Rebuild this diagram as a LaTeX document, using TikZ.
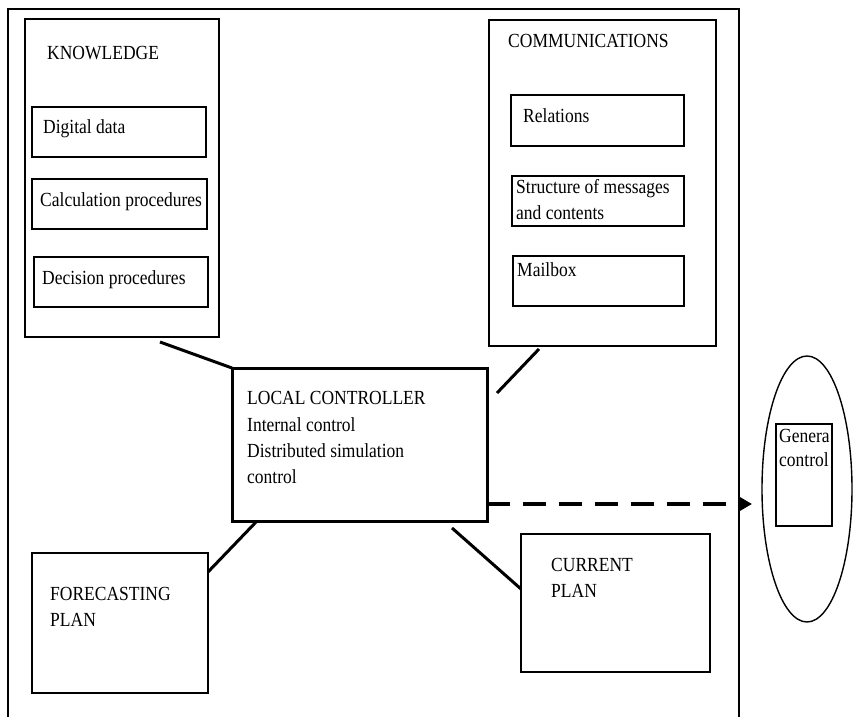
\documentclass[tikz,border=0pt]{standalone}
\usepackage{fontspec}
\setmainfont{Liberation Serif}[FakeStretch=0.875]
\usetikzlibrary{calc,arrows.meta,shapes.geometric}
\begin{document}
\begin{tikzpicture}[x=1pt,y=-1pt,
  thinbox/.style={draw,line width=1.4pt,inner sep=0pt,outer sep=0pt,rectangle},
  thickbox/.style={draw,line width=3pt,inner sep=0pt,outer sep=0pt,rectangle},
  lbl/.style={anchor=base west,inner sep=0pt,font=\fontsize{20}{23}\selectfont},
  link/.style={line width=3pt},
  flow/.style={line width=4pt,dash pattern=on 23pt off 13pt,-{Triangle[length=12pt,width=13pt]}}]
\useasboundingbox (0,0) rectangle (855,717);

% outer frame (open at the bottom)
\draw[line width=1.4pt] (8,717) -- (8,9) -- (739,9) -- (739,717);

% knowledge module
\node[thinbox,minimum width=194pt,minimum height=318pt] (know) at (122,178) {};
\node[lbl] (knowt) at (47,60) {KNOWLEDGE};
\node[thinbox,minimum width=174pt,minimum height=50pt] (dd) at (119,132) {};
\node[lbl] (ddt) at (43,134) {Digital data};
\node[thinbox,minimum width=175pt,minimum height=50pt] (calc) at (119.5,204) {};
\node[lbl] (calct) at (40,206) {Calculation procedures};
\node[thinbox,minimum width=174pt,minimum height=50pt] (dec) at (121,282) {};
\node[lbl] (dect) at (42,284) {Decision procedures};

% communications module
\node[thinbox,minimum width=227pt,minimum height=326pt] (comm) at (602.5,183) {};
\node[lbl] (commt) at (508,48) {COMMUNICATIONS};
\node[thinbox,minimum width=173pt,minimum height=51pt] (rel) at (597.5,120.5) {};
\node[lbl] (relt) at (523,122) {Relations};
\node[thinbox,minimum width=172pt,minimum height=50pt] (struc) at (598,201) {};
\node[lbl] (struct1) at (516,193) {Structure of messages};
\node[lbl] (struct2) at (516,219) {and contents};
\node[thinbox,minimum width=171pt,minimum height=50pt] (mail) at (598.5,281) {};
\node[lbl] (mailt) at (517,276) {Mailbox};

% local controller
\node[thickbox,minimum width=255pt,minimum height=153pt] (lc) at (359.5,444.5) {};
\node[lbl] (lct1) at (247,404) {LOCAL CONTROLLER};
\node[lbl] (lct2) at (247,431) {Internal control};
\node[lbl] (lct3) at (247,457) {Distributed simulation};
\node[lbl] (lct4) at (247,483) {control};

% plans
\node[thinbox,minimum width=176pt,minimum height=140pt] (fc) at (120,623) {};
\node[lbl] (fct1) at (50,600) {FORECASTING};
\node[lbl] (fct2) at (50,626) {PLAN};
\node[thinbox,minimum width=189pt,minimum height=138pt] (cur) at (615.5,603) {};
\node[lbl] (curt1) at (551,571) {CURRENT};
\node[lbl] (curt2) at (551,597) {PLAN};

% general control
\node[draw,line width=1.4pt,ellipse,inner sep=0pt,minimum width=90pt,minimum height=266pt] (gc) at (807,489) {};
\node[thinbox,minimum width=56pt,minimum height=102pt] (gen) at (804,475) {};
\node[lbl] (gent1) at (779,442) {Genera};
\node[lbl] (gent2) at (779,466) {control};

% connectors
\coordinate (kend) at (160,342);
\coordinate (cend) at (539,349);
\coordinate (clc) at (497,393);
\coordinate (curend) at (452,528);
\coordinate (dashstart) at (487,504);
\coordinate (dashend) at (752,504);

\draw[link] (kend) -- (lc.north west);
\draw[link] (cend) -- (clc);
\draw[link] ($(lc.south west)+(25,0)$) -- ($(fc.north east)+(0,19)$);
\draw[link] (curend) -- ($(cur.north west)+(0,55)$);
\draw[flow] (dashstart) -- (dashend);
\end{tikzpicture}
\end{document}
